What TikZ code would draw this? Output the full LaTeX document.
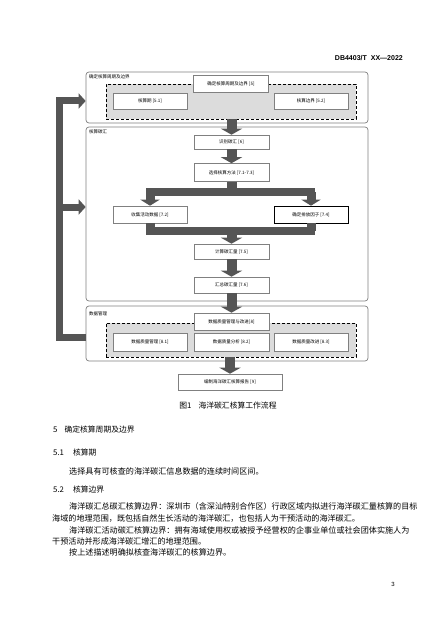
\documentclass[tikz,border=0pt]{standalone}
\usepackage{fontspec}
\usepackage{tikz}
\usetikzlibrary{arrows.meta}
\newfontfamily\cjk{Noto Sans CJK SC}
\newfontfamily\hdfont{Liberation Sans}
\definecolor{arrowgray}{RGB}{85,85,85}
\definecolor{framegray}{RGB}{128,128,128}
\definecolor{regiongray}{RGB}{220,220,220}

\tikzset{
  outerbox/.style={draw=framegray, line width=0.7pt, rounded corners=3pt, minimum width=282pt, inner sep=0pt},
  dashregion/.style={draw=black, fill=regiongray, dash pattern=on 3pt off 2pt, line width=0.6pt, minimum width=250pt, inner sep=0pt},
  stepbox/.style={draw=framegray, fill=white, line width=0.6pt, minimum width=75pt, minimum height=17pt, inner sep=0pt, font=\cjk\fontsize{4.5}{5}\selectfont},
  boxtag/.style={anchor=north west, inner sep=0pt, font=\cjk\fontsize{4.5}{5}\selectfont},
  trunkline/.style={draw=arrowgray, line width=10pt},
  trunk/.style={draw=arrowgray, line width=10pt, -{Triangle[width=21pt,length=6pt]}},
  splitbar/.style={draw=arrowgray, line width=8pt, line cap=rect},
  dropline/.style={draw=arrowgray, line width=9pt, -{Triangle[width=19pt,length=6pt]}},
  fbline/.style={draw=arrowgray, line width=7pt, line join=miter, -{Triangle[width=15pt,length=7pt]}},
  bodytext/.style={anchor=west, inner sep=0pt, font=\cjk\fontsize{8.1}{10}\selectfont},
  headtext/.style={anchor=west, inner sep=0pt, font=\cjk\fontsize{7.8}{9}\selectfont},
}

\begin{document}
\begin{tikzpicture}[x=1pt,y=1pt,yscale=-1,xscale=1]
\fill[white] (0,0) rectangle (446,631);
\useasboundingbox (0,0) rectangle (446,631);

% Page header
\node[anchor=east, inner sep=0pt, font=\hdfont\bfseries\fontsize{7}{8}\selectfont] (code) at (403,58) {DB4403/T\hspace{4pt}XX—2022};

%Shape: Rounded Rect [period and boundary]
\node[outerbox, minimum height=51pt] (setbox) at (227,97.5) {};
\node[dashregion, minimum height=35pt] (region1) at (231,101.5) {};
\node[boxtag] (tag1) at (89,74) {确定核算周期及边界};
\node[stepbox] (sec5box) at (231,83.5) {确定核算周期及边界 [5]};
\node[stepbox, minimum width=74pt, minimum height=16pt] (period) at (150,101) {核算期 [5.1]};
\node[stepbox, minimum width=74pt, minimum height=16pt] (bound) at (311,101) {核算边界 [5.2]};

%Shape: Rounded Rect [accounting]
\node[outerbox, minimum height=174pt] (calcbox) at (227,214) {};
\node[boxtag] (tag2) at (89,129) {核算碳汇};
\node[stepbox, minimum height=14pt] (idf) at (231.5,142) {识别碳汇 [6]};
\node[stepbox, minimum height=18pt] (method) at (231.5,172.5) {选择核算方法 [7.1-7.3]};
\node[stepbox, minimum width=74pt] (collect) at (150,214.5) {收集活动数据 [7.2]};
\node[stepbox, minimum width=74pt, draw=black] (factor) at (311,214.5) {确定排放因子 [7.4]};
\node[stepbox, minimum height=15pt] (calc) at (231.5,251.5) {计算碳汇量 [7.5]};
\node[stepbox, minimum height=16pt] (sum) at (231.5,285) {汇总碳汇量 [7.6]};

%Shape: Rounded Rect [data management]
\node[outerbox, minimum height=55pt] (databox) at (227,333.5) {};
\node[dashregion, minimum height=34pt] (region3) at (231,340) {};
\node[boxtag] (tag3) at (89,312) {数据管理};
\node[stepbox] (dq) at (231.5,321.5) {数据质量管理与改进[8]};
\node[stepbox, minimum width=74pt, minimum height=18pt] (dqa) at (150,342) {数据质量管理 [8.1]};
\node[stepbox, minimum height=18pt] (dqb) at (231.5,342) {数据质量分析 [8.2]};
\node[stepbox, minimum width=74pt, minimum height=18pt] (dqc) at (311,342) {数据质量改进 [8.3]};

% Report
\node[stepbox, minimum width=104pt, minimum height=16pt] (report) at (230,382) {编制海洋碳汇核算报告 [9]};

%Straight Lines [main flow]
\draw[trunk] (idf.north |- region1.south) -- (idf.north);
\draw[trunk] (idf.south) -- (method.north);
\coordinate (split) at (231.5,192);
\draw[trunkline] (method.south) -- (split);
\draw[splitbar] (collect.north |- split) -- (factor.north |- split);
\draw[dropline] (collect.north |- split) -- (collect.north);
\draw[dropline] (factor.north |- split) -- (factor.north);
\coordinate (merge) at (231.5,231);
\draw[trunkline, line width=9pt] (collect.south) -- (collect.south |- merge);
\draw[trunkline, line width=9pt] (factor.south) -- (factor.south |- merge);
\draw[splitbar] (collect.south |- merge) -- (factor.south |- merge);
\draw[trunk] (merge) -- (calc.north);
\draw[trunk] (calc.south) -- (sum.north);
\draw[trunk] (sum.south) -- (dq.north);
\draw[trunk] (report.north |- region3.south) -- (report.north);

%Straight Lines [feedback]
\coordinate (fbtop) at (59.5,101);
\coordinate (fbmid) at (59.5,207);
\coordinate (fbbot) at (59.5,337);
\draw[fbline] (databox.west |- fbbot) -- (fbbot) -- (fbtop) -- (setbox.west |- fbtop);
\draw[fbline] (fbmid) -- (calcbox.west |- fbmid);

% Text Node
\node[inner sep=0pt, font=\cjk\fontsize{7.8}{9}\selectfont] (caption) at (228,406) {图1\hspace{7pt}海洋碳汇核算工作流程};
% Text Node
\node[headtext] (sec5) at (53,430) {5\hspace{7pt}确定核算周期及边界};
\node[headtext] (sec51) at (53,453) {5.1\hspace{9pt}核算期};
\node[bodytext] (line1) at (69,471.7) {选择具有可核查的海洋碳汇信息数据的连续时间区间。};
\node[headtext] (sec52) at (53,489.3) {5.2\hspace{9pt}核算边界};
\node[bodytext] (para1) at (69,506.7) {海洋碳汇总碳汇核算边界：深圳市（含深汕特别合作区）行政区域内拟进行海洋碳汇量核算的目标};
\node[bodytext] (para2) at (52,518.3) {海域的地理范围，既包括自然生长活动的海洋碳汇，也包括人为干预活动的海洋碳汇。};
\node[bodytext] (para3) at (69,530.7) {海洋碳汇活动碳汇核算边界：拥有海域使用权或被授予经营权的企事业单位或社会团体实施人为};
\node[bodytext] (para4) at (52,541.7) {干预活动并形成海洋碳汇增汇的地理范围。};
\node[bodytext] (para5) at (69,552.7) {按上述描述明确拟核查海洋碳汇的核算边界。};
% Page number
\node[inner sep=0pt, font=\hdfont\fontsize{6}{7}\selectfont] (pageno) at (393,584) {3};

\end{tikzpicture}
\end{document}
